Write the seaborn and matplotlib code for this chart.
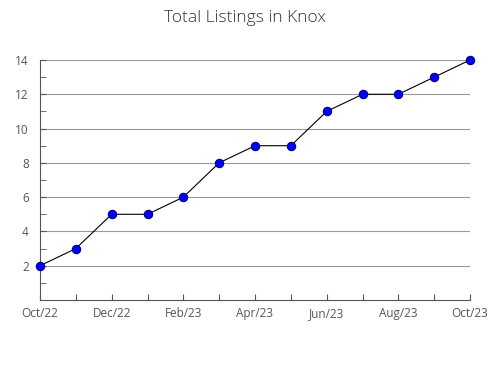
import matplotlib
matplotlib.use("Agg")
import matplotlib.pyplot as plt
import seaborn as sns
import pandas as pd
import numpy as np

months = ["Oct/22", "Nov/22", "Dec/22", "Jan/23", "Feb/23", "Mar/23", "Apr/23",
          "May/23", "Jun/23", "Jul/23", "Aug/23", "Sep/23", "Oct/23"]
listings = [2, 3, 5, 5, 6, 8, 9, 9, 11, 12, 12, 13, 14]

sns.set_style("white")
plt.rcParams['font.family'] = ['Open Sans', 'DejaVu Sans']

df = pd.DataFrame({"idx": range(len(months)), "value": listings})

fig = plt.figure(figsize=(4.9, 3.8), dpi=100)
ax = fig.add_axes([40/490, 1-300/380, 430/490, 240/380])

sns.lineplot(data=df, x="idx", y="value", ax=ax, color="black", linewidth=0.8,
             marker="o", markersize=6, markerfacecolor="#0000ff",
             markeredgecolor="#000080", markeredgewidth=0.8, zorder=3, clip_on=False)

ax.set_xlim(0, len(months)-1)
ax.set_ylim(0, 14)
ax.set_xticks(range(len(months)))
ax.set_xticklabels([m if i % 2 == 0 else "" for i, m in enumerate(months)])
ax.set_yticks([2, 4, 6, 8, 10, 12, 14])
ax.set_yticks([1, 3, 5, 7, 9, 11, 13], minor=True)
ax.yaxis.grid(True, color="#999999", linewidth=0.8)
ax.set_axisbelow(True)
for s in ["top", "right"]:
    ax.spines[s].set_visible(False)
for s in ["left", "bottom"]:
    ax.spines[s].set_color("#555555")
    ax.spines[s].set_linewidth(0.8)
ax.tick_params(axis="both", which="both", direction="in", length=4,
               color="#555555", labelsize=8.5, labelcolor="#555555", bottom=True, left=True)
ax.tick_params(axis="x", direction="in", pad=5)
ax.tick_params(axis="y", pad=8)
ax.set_xlabel("")
ax.set_ylabel("")
fig.suptitle("Total Listings in Knox", y=0.975, fontsize=12.5, color="#333333", fontweight="light")

fig.savefig("out.png", dpi=100)
